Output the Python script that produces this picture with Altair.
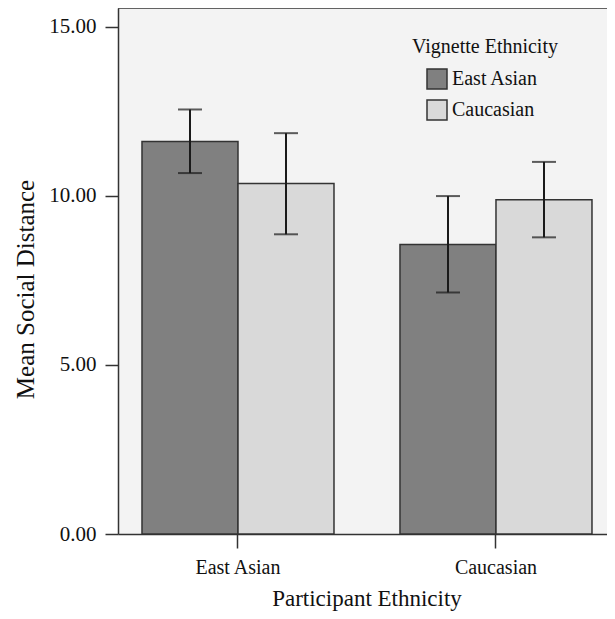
import altair as alt
import pandas as pd

participant = ["East Asian", "East Asian", "Caucasian", "Caucasian"]
vignette = ["East Asian", "Caucasian", "East Asian", "Caucasian"]
mean = [11.60, 10.36, 8.56, 9.88]
lower = [10.67, 8.86, 7.14, 8.77]
upper = [12.55, 11.85, 9.99, 11.00]

groups = ["East Asian", "Caucasian"]
tick_values = [0, 5, 10, 15]

df = pd.DataFrame(dict(participant=participant, vignette=vignette,
                       mean=mean, lower=lower, upper=upper))

FONT = "Liberation Serif"
DARK = "#333333"
W, H = 489, 526

x = alt.X("participant:N", sort=groups, title="Participant Ethnicity",
          scale=alt.Scale(paddingInner=0.2558, paddingOuter=0.0756, align=0.615),
          axis=alt.Axis(labelAngle=0, labelFontSize=20, labelPadding=9,
                        labelColor="#111111", tickSize=14, tickWidth=1.5,
                        tickColor=DARK, domainColor=DARK, domainWidth=1.5,
                        titleFontSize=23, titleFontWeight="normal",
                        titleColor="#111111", titleX=248.5, titleY=71,
                        titleBaseline="alphabetic", titleAlign="center"))
xo = alt.XOffset("vignette:N", sort=groups,
                 scale=alt.Scale(paddingInner=0, paddingOuter=0))
yscale = alt.Scale(domain=[0, 15.55], nice=False)
yaxis = alt.Axis(values=tick_values, format=".2f", grid=False,
                 labelFontSize=21, labelPadding=9, labelColor="#111111",
                 tickSize=13, tickWidth=1.5, tickColor=DARK,
                 domainColor=DARK, domainWidth=1.5,
                 titleFontSize=25, titleFontWeight="normal",
                 titleColor="#111111", titleAngle=-90, titleX=-85, titleY=281,
                 titleBaseline="alphabetic", titleAlign="center")
YT = "Mean Social Distance"

color = alt.Color("vignette:N", sort=groups,
                  scale=alt.Scale(domain=groups, range=["#808080", "#d9d9d9"]),
                  legend=alt.Legend(orient="none", legendX=294, legendY=29,
                                    title="Vignette Ethnicity", titleFontSize=20,
                                    titleFontWeight="normal", titleColor="#111111",
                                    titlePadding=11, labelFontSize=20,
                                    labelColor="#111111", symbolType="square",
                                    symbolSize=400, symbolStrokeColor=DARK,
                                    symbolStrokeWidth=1.5, symbolOffset=14,
                                    labelOffset=4, rowPadding=5, padding=0))

base = alt.Chart(df)
bars = base.mark_bar(stroke=DARK, strokeWidth=1.5).encode(
    x=x, xOffset=xo, y=alt.Y("mean:Q", scale=yscale, axis=yaxis, title=YT),
    color=color)
rule = base.mark_rule(color="#1a1a1a", strokeWidth=2).encode(
    x=x, xOffset=xo, y=alt.Y("lower:Q", title=YT), y2="upper:Q")
cap_lo = base.mark_tick(color="#1a1a1a", thickness=2, size=24).encode(
    x=x, xOffset=xo, y=alt.Y("lower:Q", title=YT))
cap_hi = base.mark_tick(color="#1a1a1a", thickness=2, size=24).encode(
    x=x, xOffset=xo, y=alt.Y("upper:Q", title=YT))
top_border = alt.Chart(pd.DataFrame({"a": [0]})).mark_rule(
    color=DARK, strokeWidth=1.5).encode(
    x=alt.value(0), x2=alt.value(W), y=alt.value(0))

chart = alt.layer(bars, rule, cap_lo, cap_hi, top_border).properties(
    width=W, height=H, autosize=alt.AutoSizeParams(type="none"),
    padding={"left": 110, "top": 0, "right": 0, "bottom": 77},
).configure(font=FONT).configure_view(fill="#f3f3f3", stroke=None)

chart.save("out.html", embed_options={"renderer": "svg", "actions": False})
